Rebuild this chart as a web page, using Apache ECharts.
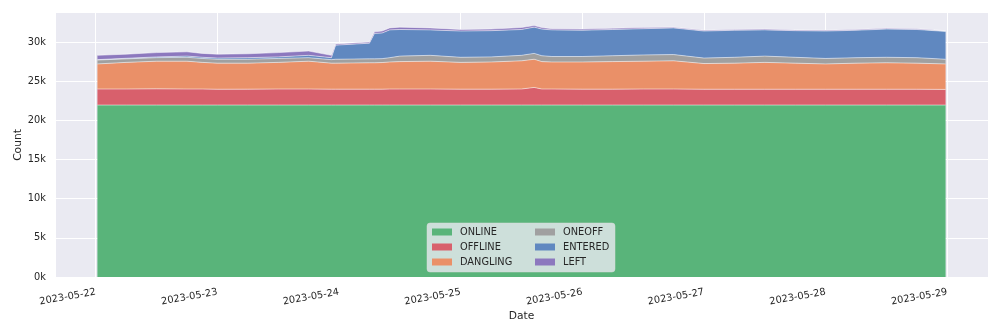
<!DOCTYPE html>
<html>
<head>
<meta charset="utf-8">
<script src="https://cdn.jsdelivr.net/npm/echarts@6/dist/echarts.min.js"></script>
<style>html,body{margin:0;padding:0;background:#fff;}#c{width:1000px;height:333px;}</style>
</head>
<body>
<div id="c"></div>
<script>
const times = ['2023-05-22 00:20','2023-05-22 06:00','2023-05-22 12:00','2023-05-22 18:00','2023-05-22 21:00',
'2023-05-23 00:00','2023-05-23 06:00','2023-05-23 12:00','2023-05-23 18:00','2023-05-23 22:30','2023-05-23 23:20',
'2023-05-24 06:00','2023-05-24 07:00','2023-05-24 08:30','2023-05-24 10:00','2023-05-24 12:00','2023-05-24 18:00',
'2023-05-25 00:00','2023-05-25 06:00','2023-05-25 12:00','2023-05-25 14:30','2023-05-25 16:00','2023-05-25 18:00',
'2023-05-26 00:00','2023-05-26 06:00','2023-05-26 12:00','2023-05-26 18:00',
'2023-05-27 00:00','2023-05-27 06:00','2023-05-27 12:00','2023-05-27 18:00',
'2023-05-28 00:00','2023-05-28 06:00','2023-05-28 12:00','2023-05-28 18:00','2023-05-28 23:40'];
const online   = [21950,21950,21950,21950,21950,21950,21950,21950,21950,21950,21950,21950,21950,21950,21950,21950,21950,21950,21950,21950,21950,21950,21950,21950,21950,21950,21950,21950,21950,21950,21950,21950,21950,21950,21950,21950];
const offline  = [2050,2050,2070,2050,2050,2020,2030,2050,2050,2030,2030,2030,2030,2030,2050,2050,2050,2030,2030,2050,2250,2050,2050,2030,2030,2050,2050,2020,2020,2020,2020,2020,2020,2020,2020,2000];
const dangling = [3200,3400,3530,3550,3400,3330,3320,3400,3550,3320,3320,3370,3370,3400,3450,3500,3550,3420,3470,3600,3600,3500,3450,3470,3520,3550,3600,3280,3330,3430,3330,3230,3330,3380,3330,3250];
const oneoff   = [500,450,450,500,500,500,500,500,450,450,500,500,500,500,550,700,750,650,650,700,750,750,700,700,750,800,800,700,750,800,750,700,700,700,700,600];
const entered  = [50,70,100,150,150,150,200,200,300,250,1800,2000,3250,3270,3550,3400,3250,3350,3350,3300,3350,3400,3400,3350,3350,3350,3400,3450,3450,3350,3400,3500,3500,3600,3600,3550];
const left     = [550,530,550,550,500,500,500,550,550,300,150,150,200,250,250,300,250,200,200,250,200,200,150,150,150,150,100,100,100,100,100,100,100,100,100,100];
const seriesNames = ['ONLINE','OFFLINE','DANGLING','ONEOFF','ENTERED','LEFT'];
const seriesColors = ['#59B47A','#D8606C','#EA9068','#A0A0A0','#6088C0','#8C78BE'];
const tickLabels = ['2023-05-22','2023-05-23','2023-05-24','2023-05-25','2023-05-26','2023-05-27','2023-05-28','2023-05-29'];
const yTicks = [0,5000,10000,15000,20000,25000,30000];

function ts(s){
  const parts = s.split(' ');
  const d = parts[0].split('-').map(Number);
  const t = (parts[1] || '00:00').split(':').map(Number);
  return Date.UTC(d[0], d[1]-1, d[2], t[0], t[1]);
}
const DAY = 86400000;
const xs = times.map(ts);
const tickTs = tickLabels.map(ts);
const allValues = [online, offline, dangling, oneoff, entered, left];
const totals = xs.map((_, i) => allValues.reduce((a, arr) => a + arr[i], 0));
const span = xs[xs.length-1] - xs[0];
const xMin = xs[0] - 0.05*span, xMax = xs[xs.length-1] + 0.05*span;
const yMax = Math.max(...totals) * 1.05;

function fmtDay(v){
  const i = tickTs.findIndex(t => Math.abs(t - v) < 60000);
  if (i >= 0) return tickLabels[i];
  const d = new Date(v);
  const p = n => String(n).padStart(2, '0');
  return d.getUTCFullYear() + '-' + p(d.getUTCMonth()+1) + '-' + p(d.getUTCDate());
}

const txt = '#262626';
const font = 'DejaVu Sans';
const series = allValues.map((arr, k) => ({
  name: seriesNames[k],
  type: 'line',
  stack: 'total',
  data: arr.map((v, i) => [xs[i], v]),
  showSymbol: false,
  symbol: 'none',
  color: seriesColors[k],
  lineStyle: { width: 1, color: 'rgba(255,255,255,0.5)' },
  areaStyle: { color: seriesColors[k], opacity: 1 },
  emphasis: { disabled: true },
  z: 2
}));

const legendCommon = {
  orient: 'vertical',
  top: 227,
  padding: 0,
  itemGap: 5,
  itemWidth: 20, itemHeight: 7,
  icon: 'rect',
  textStyle: { color: txt, fontSize: 9.8, fontFamily: font, padding: [0, 0, 0, 3] },
  selectedMode: false,
  z: 5
};

const chart = echarts.init(document.getElementById('c'), null, { renderer: 'canvas' });
chart.setOption({
  animation: false,
  useUTC: true,
  backgroundColor: '#ffffff',
  textStyle: { fontFamily: font },
  grid: { left: 55, right: 12, top: 13, bottom: 56, show: true, backgroundColor: '#EAEAF2', borderWidth: 0, outerBoundsMode: 'none', containLabel: false },
  xAxis: {
    type: 'time',
    min: xMin, max: xMax,
    minInterval: DAY, maxInterval: DAY,
    name: 'Date', nameLocation: 'middle', nameGap: 34, nameMoveOverlap: false,
    nameTextStyle: { color: txt, fontSize: 10.7, fontFamily: font },
    axisLine: { show: false },
    axisTick: { show: false },
    axisLabel: {
      rotate: 10, margin: 15, color: txt, fontSize: 9.8, fontFamily: font,
      hideOverlap: false,
      formatter: fmtDay
    },
    splitLine: { show: true, lineStyle: { color: '#ffffff', width: 1 } }
  },
  yAxis: {
    type: 'value',
    min: 0, max: yMax,
    name: 'Count', nameLocation: 'middle', nameGap: 31, nameRotate: 90, nameMoveOverlap: false,
    nameTextStyle: { color: txt, fontSize: 10.7, fontFamily: font },
    axisLine: { show: false },
    axisTick: { show: false, customValues: yTicks },
    axisLabel: { customValues: yTicks, margin: 9, color: txt, fontSize: 9.8, fontFamily: font,
      formatter: (v) => (v/1000) + 'k' },
    splitLine: { show: true, lineStyle: { color: '#ffffff', width: 1 } }
  },
  graphic: [{
    type: 'rect', z: 4,
    shape: { x: 427, y: 223, width: 188, height: 49, r: 3 },
    style: { fill: 'rgba(234,234,242,0.8)', stroke: 'rgba(220,220,220,0.6)', lineWidth: 0.8 }
  }],
  legend: [
    Object.assign({}, legendCommon, { left: 432, data: seriesNames.slice(0, 3) }),
    Object.assign({}, legendCommon, { left: 535, data: seriesNames.slice(3) })
  ],
  series: series
});
</script>
</body>
</html>
